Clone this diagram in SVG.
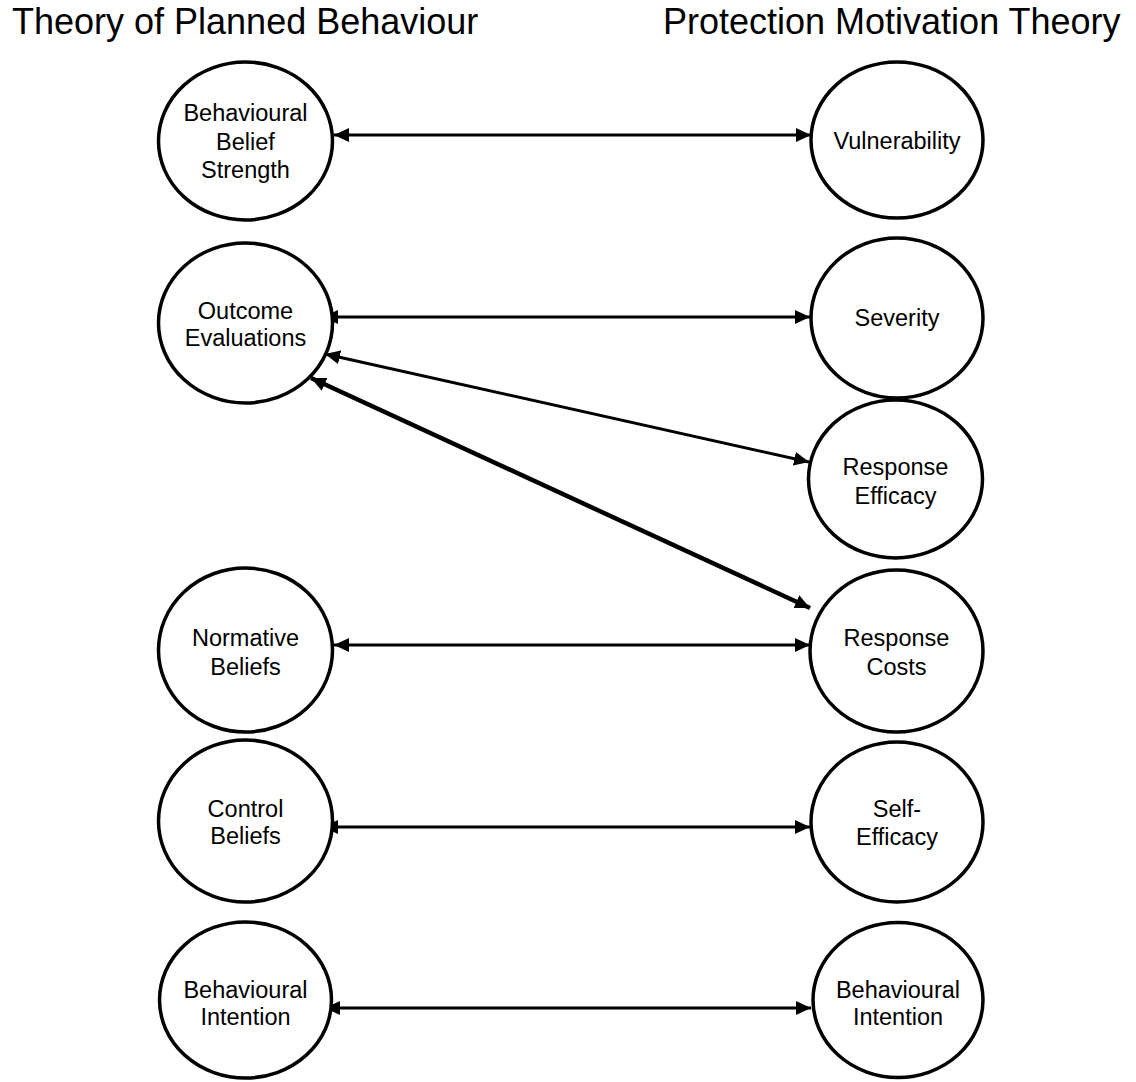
<svg xmlns="http://www.w3.org/2000/svg" width="1136" height="1082" viewBox="0 0 1136 1082">
  <defs>
    <style>
      .title { font-family: "Liberation Sans", Arial, sans-serif; font-size: 36px; fill: #000; }
      .node ellipse { fill: #fff; stroke: #000; stroke-width: 3.5; }
      .node text { font-family: "Liberation Sans", Arial, sans-serif; font-size: 23.5px; fill: #000; text-anchor: middle; }
      .link { stroke: #000; stroke-width: 3; fill: none; marker-start: url(#head); marker-end: url(#head); }
      .link.heavy { stroke-width: 4.5; }
    </style>
    <marker id="head" viewBox="0 0 15 14" refX="15" refY="7" markerWidth="15" markerHeight="14" markerUnits="userSpaceOnUse" orient="auto-start-reverse">
      <path d="M0,0 L15,7 L0,14 Z" fill="#000"/>
    </marker>
  </defs>

  <rect width="1136" height="1082" fill="#fff"/>

  <text class="title" x="12" y="34">Theory of Planned Behaviour</text>
  <text class="title" x="663" y="34">Protection Motivation Theory</text>

  <!-- connectors -->
  <g id="connectors">
    <line class="link" x1="334" y1="135" x2="811" y2="135"/>
    <line class="link" x1="323" y1="317" x2="810" y2="317"/>
    <line class="link" x1="325" y1="354" x2="809" y2="462"/>
    <line class="link heavy" x1="311" y1="378" x2="810" y2="608"/>
    <line class="link" x1="334" y1="645" x2="810" y2="645"/>
    <line class="link" x1="323" y1="827" x2="810" y2="827"/>
    <line class="link" x1="325" y1="1008" x2="811" y2="1008"/>
  </g>

  <!-- Theory of Planned Behaviour constructs -->
  <g id="tpb-behavioural-belief" class="node">
    <ellipse cx="245.5" cy="141" rx="87" ry="79"/>
    <text x="245.5" y="121">Behavioural</text>
    <text x="245.5" y="149.5">Belief</text>
    <text x="245.5" y="178">Strength</text>
  </g>
  <g id="tpb-outcome-evaluations" class="node">
    <ellipse cx="245.5" cy="323" rx="87" ry="80"/>
    <text x="245.5" y="318.5">Outcome</text>
    <text x="245.5" y="346">Evaluations</text>
  </g>
  <g id="tpb-normative-beliefs" class="node">
    <ellipse cx="245.5" cy="650" rx="87" ry="82"/>
    <text x="245.5" y="646">Normative</text>
    <text x="245.5" y="674.5">Beliefs</text>
  </g>
  <g id="tpb-control-beliefs" class="node">
    <ellipse cx="245.5" cy="821" rx="87" ry="81"/>
    <text x="245.5" y="816.5">Control</text>
    <text x="245.5" y="844">Beliefs</text>
  </g>
  <g id="tpb-behavioural-intention" class="node">
    <ellipse cx="245.5" cy="1000" rx="86" ry="78"/>
    <text x="245.5" y="997.5">Behavioural</text>
    <text x="245.5" y="1025">Intention</text>
  </g>

  <!-- Protection Motivation Theory constructs -->
  <g id="pmt-vulnerability" class="node">
    <ellipse cx="897" cy="140" rx="86" ry="78"/>
    <text x="897" y="149">Vulnerability</text>
  </g>
  <g id="pmt-severity" class="node">
    <ellipse cx="897" cy="318" rx="86" ry="80"/>
    <text x="897" y="326">Severity</text>
  </g>
  <g id="pmt-response-efficacy" class="node">
    <ellipse cx="895.5" cy="479" rx="87" ry="79"/>
    <text x="895.5" y="475">Response</text>
    <text x="895.5" y="504">Efficacy</text>
  </g>
  <g id="pmt-response-costs" class="node">
    <ellipse cx="896.5" cy="651" rx="86.5" ry="81"/>
    <text x="896.5" y="646">Response</text>
    <text x="896.5" y="675">Costs</text>
  </g>
  <g id="pmt-self-efficacy" class="node">
    <ellipse cx="897" cy="822" rx="86" ry="80"/>
    <text x="897" y="817">Self-</text>
    <text x="897" y="845">Efficacy</text>
  </g>
  <g id="pmt-behavioural-intention" class="node">
    <ellipse cx="898" cy="1000" rx="85" ry="77.5"/>
    <text x="898" y="998">Behavioural</text>
    <text x="898" y="1025">Intention</text>
  </g>
</svg>
